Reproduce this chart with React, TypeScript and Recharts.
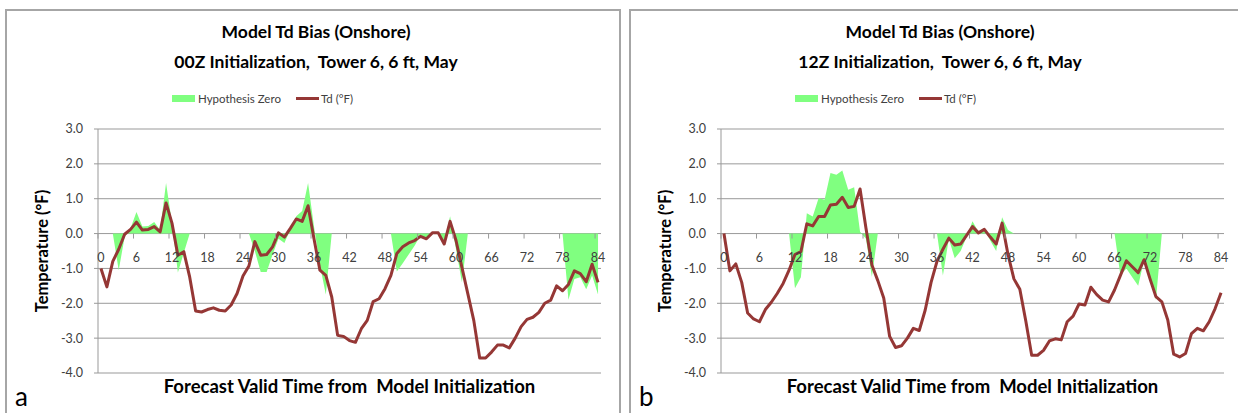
import React from 'react';
import { ComposedChart, Area, Line, XAxis, YAxis, CartesianGrid } from 'recharts';

// forecast hour categories
const HOURS = [
  0, 1, 2, 3, 4, 5, 6, 7, 8, 9, 10, 11, 12, 13, 14, 15, 16, 17, 18, 19, 20,
  21, 22, 23, 24, 25, 26, 27, 28, 29, 30, 31, 32, 33, 34, 35, 36, 37, 38, 39, 40,
  41, 42, 43, 44, 45, 46, 47, 48, 49, 50, 51, 52, 53, 54, 55, 56, 57, 58, 59, 60,
  61, 62, 63, 64, 65, 66, 67, 68, 69, 70, 71, 72, 73, 74, 75, 76, 77, 78, 79, 80,
  81, 82, 83, 84,
];
const X_TICKS = [0, 6, 12, 18, 24, 30, 36, 42, 48, 54, 60, 66, 72, 78, 84];
const Y_TICKS = [-4, -3, -2, -1, 0, 1, 2, 3];

// panel a: 00Z
const TD_00Z = [
  -1.0, -1.53, -0.8, -0.45, -0.02, 0.12, 0.33, 0.1, 0.12, 0.2, 0.05, 0.88, 0.3, -0.62, -0.52,
  -1.25, -2.22, -2.25, -2.18, -2.13, -2.2, -2.22, -2.05, -1.72, -1.22, -0.93, -0.23, -0.62, -0.6,
  -0.38, 0.02, -0.1, 0.15, 0.42, 0.35, 0.8, -0.15, -1.05, -1.2, -1.82, -2.92, -2.95, -3.07, -3.12,
  -2.73, -2.49, -1.95, -1.87, -1.58, -1.2, -0.57, -0.38, -0.27, -0.2, -0.08, -0.15, 0.02, 0.02,
  -0.3, 0.35, -0.2, -0.97, -1.73, -2.49, -3.57, -3.57, -3.4, -3.2, -3.2, -3.28, -3.0, -2.67,
  -2.46, -2.4, -2.26, -2.0, -1.91, -1.5, -1.64, -1.46, -1.07, -1.15, -1.38, -0.88, -1.4,
];
const HYP_00Z = [
  0, 0, 0, -1.05, -0.1, 0.15, 0.62, 0.2, 0.22, 0.33, 0.1, 1.45, 0.3, -1.12, -0.55,
  0, 0, 0, 0, 0, 0, 0, 0, 0, 0, 0, -0.5, -1.1, -1.1,
  -0.6, -0.15, -0.27, 0.12, 0.5, 0.65, 1.45, 0.2, -0.9, -1.75, 0, 0, 0, 0, 0,
  0, 0, 0, 0, 0, 0, -1.09, -0.85, -0.6, -0.35, -0.05, -0.12, 0.02, 0.02,
  -0.25, 0.5, -0.45, -1.4, 0, 0, 0, 0, 0, 0, 0, 0, 0, 0,
  0, 0, 0, 0, 0, 0, 0, -1.9, -1.3, -1.25, -1.6, -1.2, -1.75,
];

// panel b: 12Z
const TD_12Z = [
  0.0, -1.07, -0.87, -1.4, -2.28, -2.45, -2.53, -2.18, -1.97, -1.72, -1.43, -1.05, -0.6, -0.52, 0.28,
  0.22, 0.49, 0.49, 0.82, 0.84, 1.04, 0.75, 0.78, 1.28, 0.15, -0.9, -1.35, -1.85, -2.95,
  -3.27, -3.22, -3.0, -2.72, -2.78, -2.2, -1.4, -0.8, -0.45, -0.13, -0.33, -0.3, -0.05, 0.2, 0.02,
  0.12, -0.1, -0.3, 0.3, -0.6, -1.3, -1.6, -2.5, -3.49, -3.49, -3.35, -3.08, -3.02, -3.05,
  -2.53, -2.37, -2.02, -2.05, -1.54, -1.75, -1.91, -1.96, -1.62, -1.2, -0.78, -0.95, -1.12, -0.75,
  -1.3, -1.81, -1.96, -2.48, -3.46, -3.54, -3.44, -2.87, -2.72, -2.79, -2.53, -2.15, -1.7,
];
const HYP_12Z = [
  0, 0, 0, 0, 0, 0, 0, 0, 0, 0, 0, 0, -1.57, -1.25, 0.58,
  0.49, 1.02, 0.97, 1.74, 1.69, 1.81, 1.26, 1.33, 0.05, -0.15, -1.24, 0, 0, 0,
  0, 0, 0, 0, 0, 0, 0, 0, -1.2, -0.15, -0.71, -0.5, -0.1, 0.35, 0.05,
  0.15, -0.2, -0.5, 0.47, 0.1, 0, 0, 0, 0, 0, 0, 0, 0, 0,
  0, 0, 0, 0, 0, 0, 0, 0, 0, -1.2, -1.0, -1.25, -1.5, -0.75,
  -1.3, -1.9, 0, 0, 0, 0, 0, 0, 0, 0, 0, 0, 0,
];

const GREEN = '#80ff80';
const TD_RED = '#953735';
const GRID = '#999999';
const TEXT = '#404040';
const FONT = 'Lato, "Open Sans", sans-serif';

const CHART_W = 620;
const CHART_H = 413;
const X_AXIS_H = 40;
const MARGIN = { top: 129, right: 19, bottom: 0, left: 0 };
const Y_AXIS_W = 98;
const PLOT_W = CHART_W - MARGIN.right - Y_AXIS_W;
const PLOT_H = CHART_H - MARGIN.top - X_AXIS_H;
const ZERO_SHIFT = (PLOT_H * 4) / 7;
const HALF_BAND = PLOT_W / HOURS.length / 2;

// category labels sit under the zero line, as in Excel
const ZeroTick = (props: any) => {
  const { x, y, payload } = props;
  const zy = y - ZERO_SHIFT;
  return (
    <g>
      <line x1={x - HALF_BAND} x2={x - HALF_BAND} y1={zy} y2={zy + 5} stroke={GRID} />
      <text x={x} y={zy + 24} textAnchor="middle" dominantBaseline="central" fontSize={12.5} fill={TEXT}>
        {payload.value}
      </text>
    </g>
  );
};

const Panel = ({ left, subtitle, letter, td, hyp, borderLeft }: any) => {
  const data = HOURS.map((h, i) => ({ h, td: td[i], hyp: hyp[i] }));
  return (
    <div style={{ position: 'absolute', left, top: 0, width: CHART_W, height: CHART_H, fontFamily: FONT }}>
      <div
        style={{
          position: 'absolute', left: borderLeft, top: 9, width: 616, height: 420,
          border: '2px solid #a6a6a6', boxSizing: 'border-box',
        }}
      />
      <div
        style={{
          position: 'absolute', left: borderLeft, top: 17, width: 622, textAlign: 'center',
          fontWeight: 700, fontSize: 17.5, lineHeight: '30px', color: '#000',
        }}
      >
        <div>Model Td Bias (Onshore)</div>
        <div style={{ whiteSpace: 'pre' }}>{subtitle}</div>
      </div>
      <div
        style={{
          position: 'absolute', left: 172, top: 90, display: 'flex', alignItems: 'center',
          fontSize: 11.5, color: TEXT, height: 16,
        }}
      >
        <span style={{ width: 23, height: 7, background: GREEN, marginRight: 3 }} />
        <span>Hypothesis Zero</span>
        <span style={{ width: 23, height: 3, background: TD_RED, marginLeft: 15, marginRight: 2 }} />
        <span>Td (°F)</span>
      </div>
      <ComposedChart width={CHART_W} height={CHART_H} data={data} margin={MARGIN}>
        <CartesianGrid horizontal vertical={false} stroke={GRID} />
        <XAxis
          dataKey="h"
          type="number"
          domain={[-0.5, 84.5]}
          ticks={X_TICKS}
          interval={0}
          axisLine={false}
          tickLine={false}
          tickSize={0}
          tickMargin={0}
          tick={<ZeroTick />}
          height={X_AXIS_H}
        />
        <YAxis
          type="number"
          domain={[-4, 3]}
          ticks={Y_TICKS}
          width={Y_AXIS_W}
          axisLine={{ stroke: GRID }}
          tickLine={{ stroke: GRID }}
          tickSize={4}
          tickMargin={11}
          tick={{ fontSize: 12.5, fill: TEXT }}
          tickFormatter={(v: number) => v.toFixed(1)}
          label={{
            value: 'Temperature (°F)', angle: -90, position: 'center', dx: -7,
            style: { fontSize: 16.5, fontWeight: 700, fill: '#000' },
          }}
        />
        <Area
          type="linear"
          dataKey="hyp"
          baseValue={0}
          stroke="none"
          fill={GREEN}
          fillOpacity={1}
          isAnimationActive={false}
        />
        <Line
          type="linear"
          dataKey="td"
          stroke={TD_RED}
          strokeWidth={3}
          strokeLinejoin="round"
          dot={false}
          activeDot={false}
          isAnimationActive={false}
        />
      </ComposedChart>
      <div
        style={{
          position: 'absolute', left: Y_AXIS_W, width: PLOT_W, top: 375, textAlign: 'center',
          fontWeight: 700, fontSize: 18.5, color: '#000', whiteSpace: 'pre',
        }}
      >
        Forecast Valid Time from  Model Initialization
      </div>
      <div style={{ position: 'absolute', left: borderLeft + 10, top: 380, fontSize: 26, color: '#000' }}>
        {letter}
      </div>
    </div>
  );
}

export default function App() {
  return (
    <div style={{ position: 'absolute', left: 0, top: 0, width: 1238, height: 413, overflow: 'hidden', background: '#fff' }}>
      <Panel left={0} borderLeft={5} subtitle="00Z Initialization,  Tower 6, 6 ft, May" letter="a" td={TD_00Z} hyp={HYP_00Z} />
      <Panel left={623} borderLeft={6} subtitle="12Z Initialization,  Tower 6, 6 ft, May" letter="b" td={TD_12Z} hyp={HYP_12Z} />
    </div>
  );
}
